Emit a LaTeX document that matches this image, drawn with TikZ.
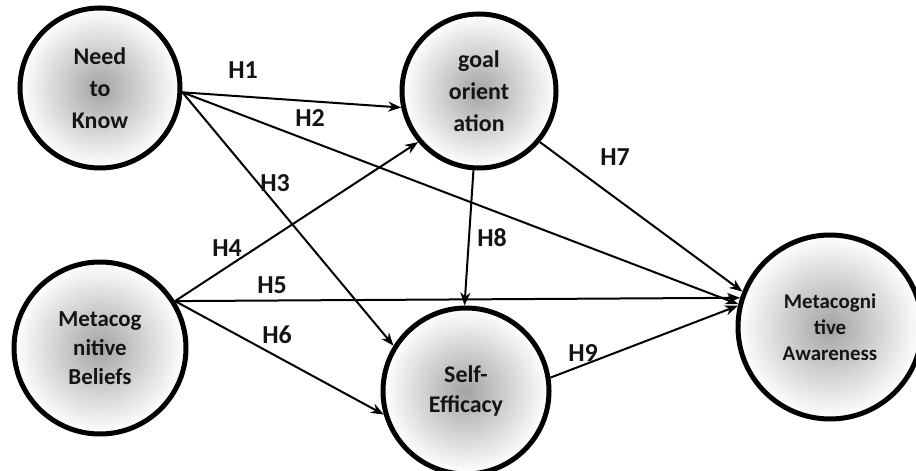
\documentclass[tikz,border=0pt]{standalone}
\usepackage{fontspec}
\setmainfont{Carlito}
\usetikzlibrary{arrows.meta}
\tikzset{
  construct/.style={circle, draw=black, line width=5bp, shading=radial, inner color=black!36, outer color=white, inner sep=0pt, align=center,
    font=\fontsize{24}{32}\selectfont\bfseries, text=black!92},
  path/.style={line width=2bp, -{Stealth[length=13bp,width=10bp]}},
  hlabel/.style={font=\fontsize{26}{28}\selectfont\bfseries, text=black!92, inner sep=0pt}
}
\begin{document}
\begin{tikzpicture}[x=1bp,y=-1bp]
\useasboundingbox (0,0) rectangle (916,471);
\fill[white] (0,0) rectangle (916,471);
\node[construct, minimum size=160bp] (NK) at (100,88) {Need\\to\\Know};
\node[construct, minimum size=154bp] (GO) at (479,91) {goal\\orient\\ation};
\node[construct, minimum size=172bp, font=\fontsize{23}{29}\selectfont\bfseries] (MB) at (100,348) {Metacog\\nitive\\Beliefs};
\node[construct, minimum size=166bp, font=\fontsize{24}{31}\selectfont\bfseries] (SE) at (466,391) {Self-\\Efficacy};
\node[construct, minimum size=184bp, font=\fontsize{21}{26}\selectfont\bfseries] (MA) at (830,327) {Metacogni\\tive\\Awareness};

\draw[path] (NK.-3) -- (GO.192);
\draw[path] (NK.-3) -- (MA.166);
\draw[path] (NK.-3) -- (SE.148);
\draw[path] (MB.32) -- (GO.220);
\draw[path] (MB.32) -- (MA.162);
\draw[path] (MB.32) -- (SE.196);
\draw[path] (GO.-40) -- (MA.158);
\draw[path] (GO.-94) -- (SE.91);
\draw[path] (SE.9) -- (MA.167);

\node[hlabel] (h1) at (243,70) {H1};
\node[hlabel] (h2) at (310,118) {H2};
\node[hlabel] (h3) at (275,183) {H3};
\node[hlabel] (h4) at (227,248) {H4};
\node[hlabel] (h5) at (272,285) {H5};
\node[hlabel] (h6) at (277,335) {H6};
\node[hlabel] (h7) at (615,157) {H7};
\node[hlabel] (h8) at (492,238) {H8};
\node[hlabel] (h9) at (583,353) {H9};
\end{tikzpicture}
\end{document}
